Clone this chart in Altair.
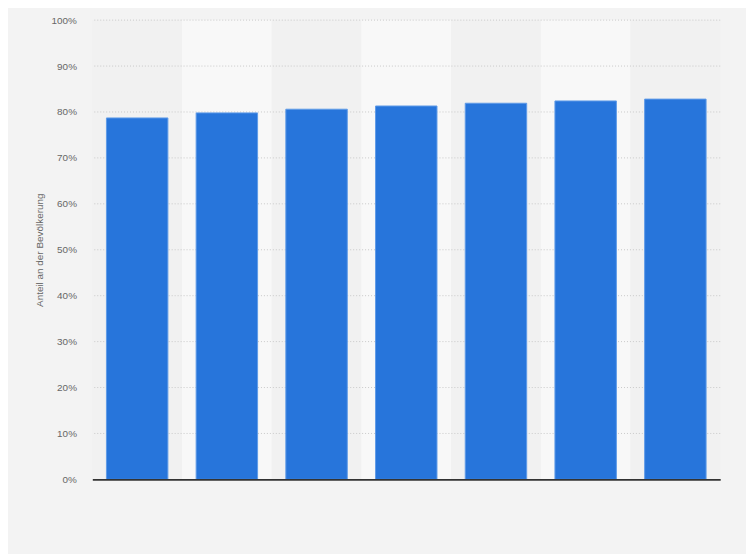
import altair as alt
import pandas as pd

categories = ["1", "2", "3", "4", "5", "6", "7"]
values = [78.7, 79.8, 80.6, 81.3, 81.9, 82.4, 82.8]
band_colors = ["#f1f1f1", "#f8f8f8", "#f1f1f1", "#f8f8f8", "#f1f1f1", "#f8f8f8", "#f1f1f1"]
tick_values = [10, 20, 30, 40, 50, 60, 70, 80, 90, 100]

df = pd.DataFrame({"cat": categories, "value": values, "band": band_colors, "top": [100] * 7})
grid_df = pd.DataFrame({"tick": tick_values})

x = alt.X("cat:N", sort=categories,
          scale=alt.Scale(paddingInner=0, paddingOuter=0),
          axis=alt.Axis(labels=False, ticks=False, title=None, domain=True,
                        domainColor="#333333", domainWidth=2, grid=False))

yscale = alt.Scale(domain=[0, 100], nice=False)
yaxis = alt.Axis(title="Anteil an der Bevölkerung", values=list(range(0, 101, 10)),
                 labelExpr="datum.value + '%'", ticks=False, domain=False,
                 grid=False,
                 labelColor="#666666", labelFontSize=10, labelFont="Liberation Sans",
                 labelPadding=16, titleColor="#666666", titleFontSize=10,
                 titleFont="Liberation Sans", titleFontWeight="normal",
                 titlePadding=7)

bands = alt.Chart(df).mark_rect().encode(
    x=x,
    y=alt.Y("top:Q", scale=yscale, axis=yaxis),
    y2=alt.datum(0),
    color=alt.Color("band:N", scale=None),
)

grid = alt.Chart(grid_df).mark_rule(color="#c8c8c8", strokeDash=[1, 2], strokeWidth=1).encode(
    y=alt.Y("tick:Q", scale=yscale, axis=yaxis),
)

bars = alt.Chart(df).mark_bar(
    width=alt.RelativeBandSize(0.685), color="#2775db",
    stroke="#5f9be8", strokeWidth=1
).encode(
    x=x,
    y=alt.Y("value:Q", scale=yscale, axis=yaxis),
)

chart = alt.layer(bands, grid, bars).properties(
    width=633, height=463,
    background="#f3f3f3",
    padding={"left": 85, "top": 10, "right": 26, "bottom": 73},
    autosize=alt.AutoSizeParams(type="none"),
).configure_view(stroke=None)

chart.save("out.html", embed_options={"renderer": "svg", "actions": False})
